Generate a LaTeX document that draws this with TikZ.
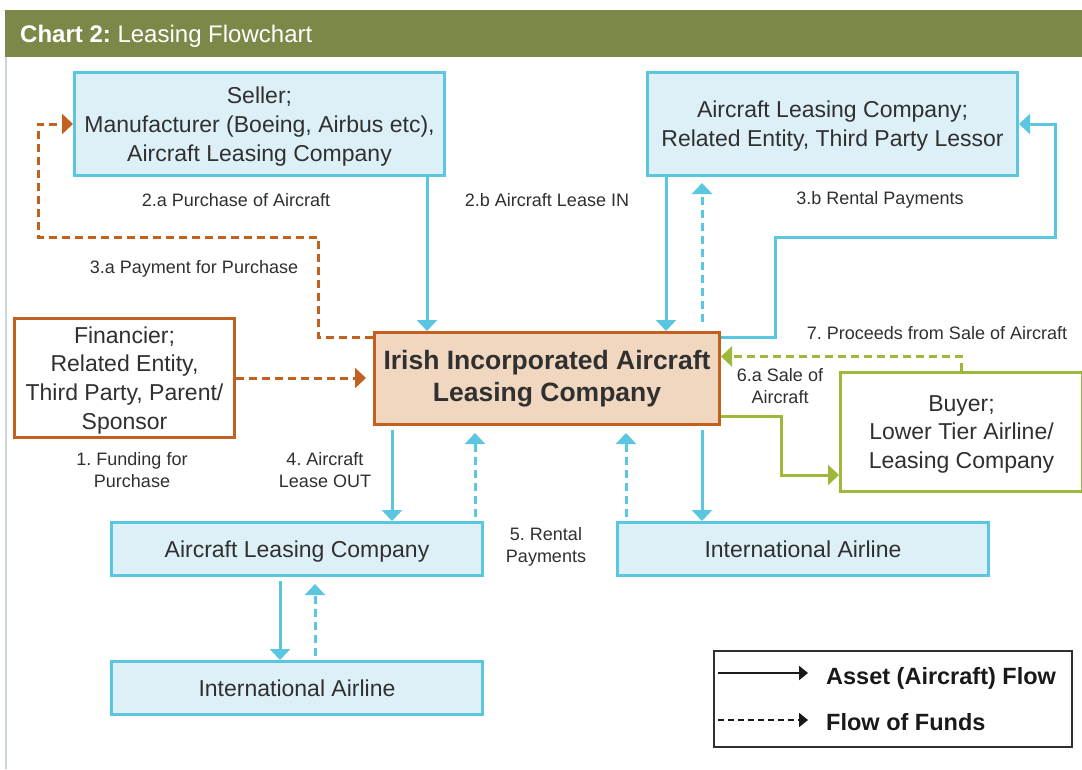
\documentclass[tikz,border=0pt]{standalone}
\usepackage{fontspec}
\setmainfont{Liberation Sans}
\usetikzlibrary{arrows.meta,calc}
\definecolor{cy}{HTML}{5BC6E0}
\definecolor{cyfill}{HTML}{DDF0F8}
\definecolor{org}{HTML}{C2601F}
\definecolor{peach}{HTML}{F1D6C0}
\definecolor{grn}{HTML}{9DB83A}
\definecolor{olive}{HTML}{7B8847}
\definecolor{txt}{HTML}{303030}
\definecolor{edge}{HTML}{C9D6DE}
\frenchspacing
\begin{document}
\begin{tikzpicture}[x=1pt,y=-1pt,
  box/.style={draw=cy, fill=cyfill, line width=3pt, align=center, text=txt,
    font=\fontsize{23}{28.7}\selectfont, inner sep=0pt, text depth=0pt},
  obox/.style={box, draw=org, fill=white},
  gbox/.style={box, draw=grn, fill=white},
  lbl/.style={align=center, text=txt, font=\fontsize{18}{22}\selectfont, inner sep=0pt},
  asset/.style={line width=3pt, -{Triangle[width=20pt,length=11pt]}},
  funds/.style={asset, dash pattern=on 8pt off 5pt},
  lgarrow/.style={line width=2.2pt, -{Triangle[width=14pt,length=9pt]}}
]
\fill[white] (0,0) rectangle (1082,769);
\useasboundingbox (0,0) rectangle (1082,769);
% header
\fill[olive] (5,10) rectangle (1082,57);
\draw[edge, line width=1.5pt] (5.75,57) -- (5.75,769);
\node[anchor=base west, text=white, font=\fontsize{24}{26}\selectfont, inner sep=0pt] (title) at (20,42) {\textbf{Chart 2:} Leasing Flowchart};

% boxes
\node[box, minimum width=370pt, minimum height=103pt] (seller) at (259.5,124) {Seller;\\Manufacturer (Boeing, Airbus etc),\\Aircraft Leasing Company};
\node[box, minimum width=370pt, minimum height=103pt] (lessor) at (832.5,124) {Aircraft Leasing Company;\\Related Entity, Third Party Lessor};
\node[obox, minimum width=220pt, minimum height=119pt] (fin) at (124.5,378) {Financier;\\Related Entity,\\Third Party, Parent/\\Sponsor};
\node[box, draw=org, fill=peach, minimum width=345pt, minimum height=92pt,
  font=\fontsize{26.5}{32}\selectfont\bfseries, text depth=5.5pt] (ctr) at (547,378.5) {Irish Incorporated Aircraft\\Leasing Company};
\node[gbox, minimum width=242pt, minimum height=119pt] (buyer) at (961.5,432) {Buyer;\\Lower Tier Airline/\\Leasing Company};
\node[box, minimum width=371pt, minimum height=53pt] (alc) at (297,549) {Aircraft Leasing Company};
\node[box, minimum width=371pt, minimum height=53pt] (ia1) at (297,688) {International Airline};
\node[box, minimum width=371pt, minimum height=53pt] (ia2) at (803,549) {International Airline};

% labels
\node[lbl] (l2a) at (236,200) {2.a Purchase of Aircraft};
\node[lbl] (l2b) at (547,200) {2.b Aircraft Lease IN};
\node[lbl] (l3b) at (880,200) {3.b Rental Payments};
\node[lbl] (l3a) at (194,269) {3.a Payment for Purchase};
\node[lbl] (l7) at (937,333) {7. Proceeds from Sale of Aircraft};
\node[lbl] (l6a) at (780,386) {6.a Sale of\\Aircraft};
\node[lbl] (l1) at (132,470) {1. Funding for\\Purchase};
\node[lbl] (l4) at (325,470) {4. Aircraft\\Lease OUT};
\node[lbl] (l5) at (546,547) {5. Rental\\Payments};

% helper coordinates
\coordinate (xA) at (427,0);
\coordinate (xB) at (666,0);
\coordinate (xC) at (702,0);
\coordinate (xD) at (392,0);
\coordinate (xE) at (475,0);
\coordinate (xF) at (626,0);
\coordinate (xG) at (702,0);
\coordinate (xH) at (280,0);
\coordinate (xI) at (315,0);
\coordinate (a1) at (318,237);
\coordinate (a2) at (38,237);
\coordinate (b1) at (775,237);
\coordinate (b2) at (1055,237);
\coordinate (g1) at (781,445);

% connectors
\draw[asset, color=cy] (seller.south -| xA) -- (ctr.north -| xA);
\draw[asset, color=cy] (lessor.south -| xB) -- (ctr.north -| xB);
\draw[funds, color=cy, shorten <=9pt, shorten >=6pt] (ctr.north -| xC) -- (lessor.south -| xC);
\draw[asset, color=cy] ([yshift=-6pt]ctr.north east) -| (b1) -- (b2) |- (lessor.east);
\draw[funds, color=org] ([yshift=-6pt]ctr.north west) -| (a1) -- (a2) |- (seller.west);
\draw[funds, color=org, shorten >=7pt] (fin.east) -- (fin.east -| ctr.west);
\draw[funds, color=grn] (buyer.north) |- ([yshift=22pt]ctr.east);
\draw[asset, color=grn] ([yshift=-37.5pt]ctr.east) -| (g1) |- ([yshift=-43pt]buyer.west);
\draw[asset, color=cy, shorten <=4pt] (ctr.south -| xD) -- (alc.north -| xD);
\draw[funds, color=cy, shorten <=4pt, shorten >=7pt] (alc.north -| xE) -- (ctr.south -| xE);
\draw[funds, color=cy, shorten <=4pt, shorten >=7pt] (ia2.north -| xF) -- (ctr.south -| xF);
\draw[asset, color=cy, shorten <=4pt] (ctr.south -| xG) -- (ia2.north -| xG);
\draw[asset, color=cy, shorten <=4pt] (alc.south -| xH) -- (ia1.north -| xH);
\draw[funds, color=cy, shorten <=4pt, shorten >=7pt] (ia1.north -| xI) -- (alc.south -| xI);

% legend
\node[draw=txt, line width=1.5pt, minimum width=358pt, minimum height=96pt, inner sep=0pt] (legend) at (893,699) {};
\coordinate (lg1) at (718,673);
\coordinate (lg2) at (808,673);
\coordinate (lg3) at (718,720);
\coordinate (lg4) at (808,720);
\draw[lgarrow, color=black!90] (lg1) -- (lg2);
\draw[lgarrow, color=black!90, dash pattern=on 6pt off 4pt] (lg3) -- (lg4);
\node[anchor=base west, inner sep=0pt, text=black!90, font=\fontsize{23.5}{26}\selectfont\bfseries] (lt1) at (826,684) {Asset (Aircraft) Flow};
\node[anchor=base west, inner sep=0pt, text=black!90, font=\fontsize{23.5}{26}\selectfont\bfseries] (lt2) at (826,730) {Flow of Funds};
\end{tikzpicture}
\end{document}
